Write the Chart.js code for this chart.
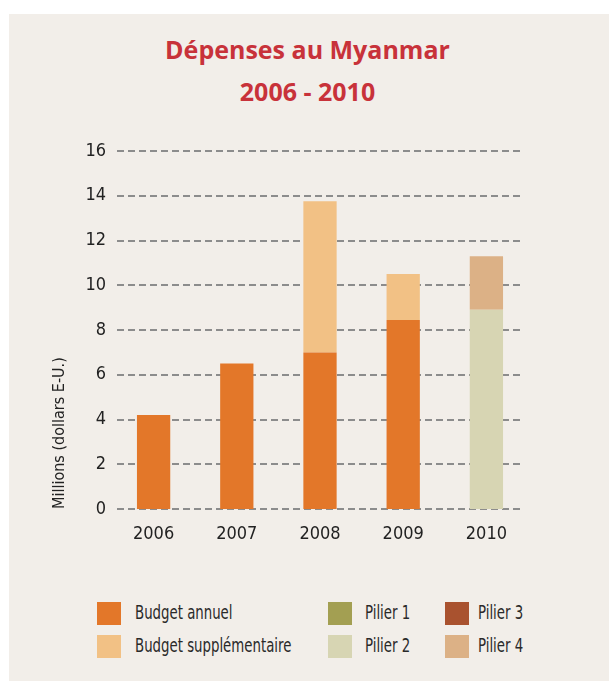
<!DOCTYPE html>
<html lang="fr">
<head>
    <meta charset="UTF-8" />
    <title>Dépenses au Myanmar 2006 - 2010</title>
    <script src="https://cdn.jsdelivr.net/npm/chart.js"></script>
    <style>
        body { margin: 0; background: #ffffff; width: 609px; height: 681px; position: relative; overflow: hidden; }
        .paper { position: absolute; left: 9px; top: 14px; right: 0; bottom: 0; background: #f2eee9; }
        .title { position: absolute; left: 0; top: 28px; width: 609px; padding-left: 6px; box-sizing: border-box; text-align: center;
                 font-family: 'Open Sans', sans-serif; font-weight: bold; font-size: 25px; line-height: 42px; color: #c8323a; margin: 0; }
        .chartBox { position: absolute; left: 0; top: 0; width: 609px; height: 560px; }
        .legend { position: absolute; left: 0; top: 0; font-family: 'DejaVu Sans Condensed', sans-serif; font-size: 20px; color: #2a2a2a; }
        .legend .swatch { position: absolute; width: 24px; height: 23px; }
        .legend .label { position: absolute; line-height: 23px; white-space: nowrap; transform: scaleX(0.74); transform-origin: left center; }
    </style>
</head>
<body>
    <div class="paper"></div>
    <h1 class="title">Dépenses au Myanmar<br>2006 - 2010</h1>
    <div class="chartBox"><canvas id="chart"></canvas></div>
    <div class="legend" id="legend"></div>

    <script>
        const years = ['2006', '2007', '2008', '2009', '2010'];
        const budgetAnnuel = [4.2, 6.5, 7.0, 8.45, 0];
        const budgetSupplementaire = [0, 0, 6.75, 2.05, 0];
        const pilier1 = [0, 0, 0, 0, 0];
        const pilier2 = [0, 0, 0, 0, 8.9];
        const pilier3 = [0, 0, 0, 0, 0];
        const pilier4 = [0, 0, 0, 0, 2.4];
        const yTicks = [0, 2, 4, 6, 8, 10, 12, 14, 16];

        const font = "'DejaVu Sans Condensed', sans-serif";

        const series = [
            { label: 'Budget annuel', data: budgetAnnuel, color: '#e37729' },
            { label: 'Budget supplémentaire', data: budgetSupplementaire, color: '#f2c185' },
            { label: 'Pilier 1', data: pilier1, color: '#a39f52' },
            { label: 'Pilier 2', data: pilier2, color: '#d7d5b3' },
            { label: 'Pilier 3', data: pilier3, color: '#a9522f' },
            { label: 'Pilier 4', data: pilier4, color: '#dcb186' }
        ];

        // dashed gridlines, a bit inset from the plot edges
        const dashedGrid = {
            id: 'dashedGrid',
            beforeDatasetsDraw(chart) {
                const { ctx, chartArea, scales } = chart;
                ctx.save();
                ctx.strokeStyle = '#8c8c8c';
                ctx.lineWidth = 2;
                ctx.setLineDash([7, 4]);
                yTicks.forEach(v => {
                    const y = Math.round(scales.y.getPixelForValue(v));
                    ctx.beginPath();
                    ctx.moveTo(chartArea.left + 5, y);
                    ctx.lineTo(chartArea.right - 8, y);
                    ctx.stroke();
                });
                ctx.restore();
            }
        };

        new Chart(document.getElementById('chart'), {
            type: 'bar',
            data: {
                labels: years,
                datasets: series.map(s => ({
                    label: s.label,
                    data: s.data,
                    backgroundColor: s.color,
                    borderWidth: 0,
                    categoryPercentage: 1,
                    barPercentage: 0.4
                }))
            },
            options: {
                responsive: true,
                maintainAspectRatio: false,
                animation: false,
                layout: { padding: { left: 50, right: 81, top: 151, bottom: 0 } },
                plugins: {
                    legend: { display: false },
                    tooltip: { enabled: false },
                    title: { display: false }
                },
                scales: {
                    x: {
                        stacked: true,
                        grid: { display: false },
                        border: { display: false },
                        ticks: { color: '#222', font: { family: font, size: 18 }, padding: 7 },
                        afterFit: s => { s.height = 51; }
                    },
                    y: {
                        stacked: true,
                        min: 0,
                        max: 16,
                        grid: { display: false, drawTicks: false },
                        border: { display: false },
                        afterBuildTicks: s => { s.ticks = yTicks.map(v => ({ value: v })); },
                        ticks: { color: '#222', font: { family: font, size: 18 }, padding: 6 },
                        title: {
                            display: true,
                            text: 'Millions (dollars E-U.)',
                            align: 'start',
                            color: '#222',
                            font: { family: font, size: 16 },
                            padding: { top: 0, bottom: 0 }
                        },
                        afterFit: s => { s.width = 62; }
                    }
                }
            },
            plugins: [dashedGrid]
        });

        // legend, column by column like the original
        const swatchPos = [[97, 602], [97, 635], [328, 602], [328, 635], [445, 602], [445, 635]];
        const labelX = [135, 135, 365, 365, 478, 478];
        const legend = document.getElementById('legend');
        series.forEach((s, i) => {
            const sw = document.createElement('span');
            sw.className = 'swatch';
            sw.style.left = swatchPos[i][0] + 'px';
            sw.style.top = swatchPos[i][1] + 'px';
            sw.style.background = s.color;
            const lb = document.createElement('span');
            lb.className = 'label';
            lb.style.left = labelX[i] + 'px';
            lb.style.top = (swatchPos[i][1] - 1) + 'px';
            lb.textContent = s.label;
            legend.appendChild(sw);
            legend.appendChild(lb);
        });
    </script>
</body>
</html>
